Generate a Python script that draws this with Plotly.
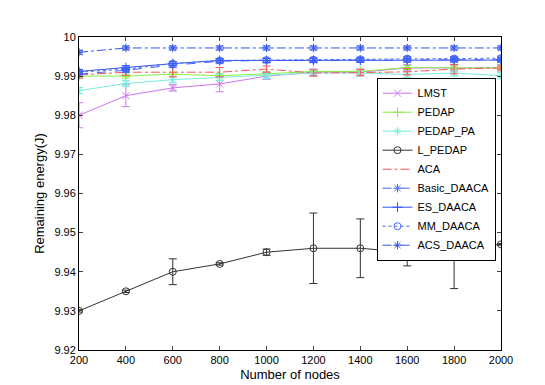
import plotly.graph_objects as go

nodes = [200, 400, 600, 800, 1000, 1200, 1400, 1600, 1800, 2000]

lmst = [9.9800, 9.9850, 9.9870, 9.9880, 9.9900, 9.9910, 9.9910, 9.9921, 9.9921, 9.9921]
lmst_err = [0.0032, 0.0028, 0.0008, 0.0020, 0.0008, 0.0008, 0.0008, 0.0008, 0.0008, 0.0008]
pedap = [9.9900, 9.9900, 9.9905, 9.9901, 9.9906, 9.9912, 9.9912, 9.9922, 9.9921, 9.9921]
pedap_err = [0.0005] * 10
pedap_pa = [9.9863, 9.9881, 9.9891, 9.9897, 9.9902, 9.9908, 9.9908, 9.9904, 9.9908, 9.9901]
pedap_pa_err = [0.0008] * 10
l_pedap = [9.930, 9.935, 9.940, 9.942, 9.945, 9.946, 9.946, 9.945, 9.946, 9.947]
l_pedap_err = [0.0003, 0.0003, 0.0033, 0.0003, 0.0008, 0.0090, 0.0075, 0.0035, 0.0103, 0.0002]
aca = [9.9903, 9.9910, 9.9910, 9.9910, 9.9918, 9.9908, 9.9909, 9.9911, 9.9918, 9.9921]
aca_err = [0.0008, 0.0008, 0.0012, 0.0012, 0.0008, 0.0008, 0.0008, 0.0008, 0.0012, 0.0005]
basic = [9.9905, 9.9915, 9.9928, 9.9938, 9.9940, 9.9940, 9.9941, 9.9941, 9.9942, 9.9942]
es = [9.9912, 9.9922, 9.9932, 9.9940, 9.9940, 9.9940, 9.9940, 9.9941, 9.9941, 9.9941]
mm = [9.9910, 9.9918, 9.9932, 9.9940, 9.9941, 9.9942, 9.9943, 9.9945, 9.9945, 9.9946]
acs = [9.9961, 9.9972, 9.9972, 9.9972, 9.9972, 9.9972, 9.9972, 9.9972, 9.9972, 9.9972]
blue_err = [0.0005] * 10

# name, values, error, colour, dash, marker
series = [
    ("LMST", lmst, lmst_err, "#cc77ee", "solid", "x-thin-open"),
    ("PEDAP", pedap, pedap_err, "#88ee44", "solid", "cross-thin-open"),
    ("PEDAP_PA", pedap_pa, pedap_pa_err, "#77eedd", "solid", "asterisk-open"),
    ("L_PEDAP", l_pedap, l_pedap_err, "#333333", "solid", "circle-open"),
    ("ACA", aca, aca_err, "#ff5555", "dashdot", None),
    ("Basic_DAACA", basic, blue_err, "#4466ff", "dash", "asterisk-open"),
    ("ES_DAACA", es, blue_err, "#3355ee", "solid", "cross-thin-open"),
    ("MM_DAACA", mm, blue_err, "#4466ff", "dot", "circle-open"),
    ("ACS_DAACA", acs, blue_err, "#3355ee", "dashdot", "asterisk-open"),
]

fig = go.Figure()
for name, y, err, col, dash, sym in series:
    fig.add_trace(go.Scatter(
        x=nodes, y=y, name=name,
        mode="lines+markers" if sym else "lines",
        line=dict(color=col, width=1, dash=dash),
        marker=dict(symbol=sym or "circle", size=7, color=col,
                    line=dict(color=col, width=1)),
        error_y=dict(type="data", array=err, color=col, thickness=1, width=4),
    ))

fig.update_layout(
    width=545, height=385,
    margin=dict(l=71, r=52, t=29, b=43),
    paper_bgcolor="white", plot_bgcolor="white",
    font=dict(family="Liberation Sans, Arial, sans-serif", size=11, color="black"),
    showlegend=True,
    legend=dict(x=0.705, y=0.87, xanchor="left", yanchor="top",
                bordercolor="black", borderwidth=1, bgcolor="white",
                font=dict(size=11), tracegroupgap=0, itemwidth=30),
)
fig.update_xaxes(
    range=[200, 2000], tickvals=nodes, ticks="inside", ticklen=4,
    showline=True, linecolor="black", linewidth=1, mirror="ticks",
    showgrid=False, zeroline=False,
    title=dict(text="Number of nodes", standoff=4),
)
fig.update_yaxes(
    range=[9.92, 10], tickvals=[9.92, 9.93, 9.94, 9.95, 9.96, 9.97, 9.98, 9.99, 10],
    ticktext=["9.92", "9.93", "9.94", "9.95", "9.96", "9.97", "9.98", "9.99", "10"],
    ticks="inside", ticklen=4,
    showline=True, linecolor="black", linewidth=1, mirror="ticks",
    showgrid=False, zeroline=False,
    title=dict(text="Remaining energy(J)", standoff=6),
)

fig.write_html("out.html")
